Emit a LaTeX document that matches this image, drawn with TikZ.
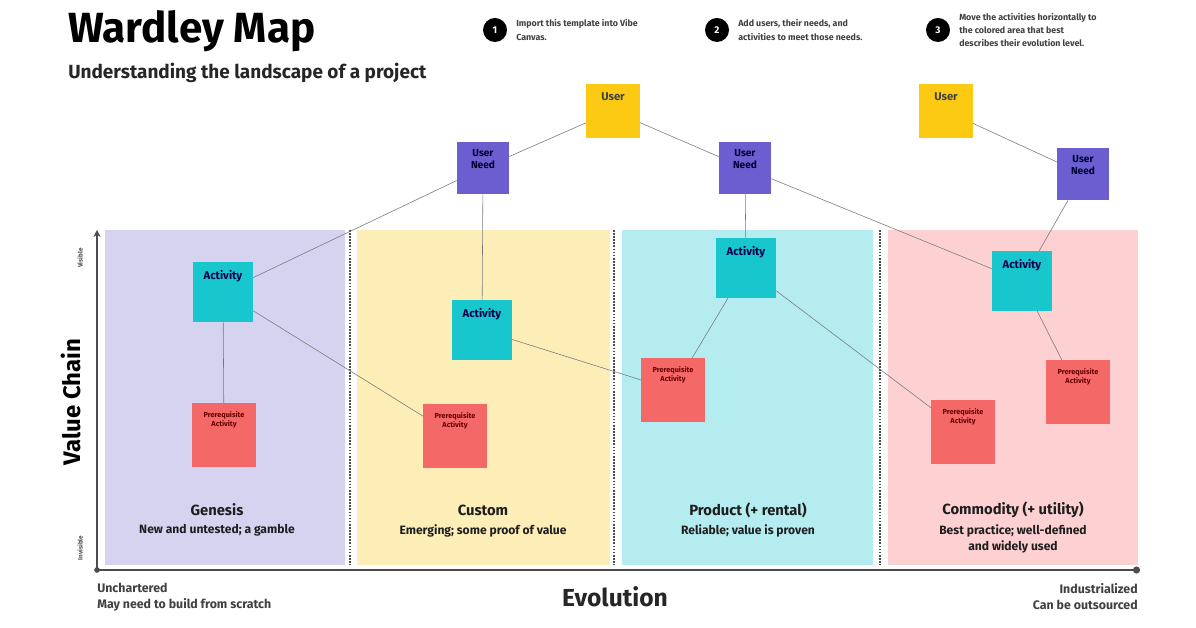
\documentclass[tikz,border=0pt]{standalone}
\usepackage{fontspec}
\setmainfont{Fira Sans}
\usepackage{xcolor}
\usepackage{tikz}
\usetikzlibrary{arrows.meta, positioning}
\definecolor{genesisbg}{RGB}{214, 211, 240}
\definecolor{custombg}{RGB}{253, 237, 183}
\definecolor{productbg}{RGB}{180, 236, 240}
\definecolor{commoditybg}{RGB}{253, 209, 209}
\definecolor{useryellow}{RGB}{252, 202, 18}
\definecolor{needpurple}{RGB}{108, 94, 208}
\definecolor{actcyan}{RGB}{24, 198, 206}
\definecolor{prereqred}{RGB}{244, 104, 104}
\definecolor{linkgray}{RGB}{120, 120, 120}
\definecolor{inkdark}{RGB}{30, 30, 30}
\tikzstyle{boxlabel} = [
    anchor=north,
    inner sep=0pt,
    align=center
]
\tikzstyle{user} = [
    rectangle,
    minimum size=1.33cm,
    inner sep=0pt,
    fill=useryellow,
    label={[boxlabel, yshift=-0.2cm, font=\fontsize{8}{9}\selectfont\bfseries, text=black!75]north:User}
]
\tikzstyle{need} = [
    rectangle,
    minimum size=1.3cm,
    inner sep=0pt,
    fill=needpurple,
    label={[boxlabel, yshift=-0.18cm, font=\fontsize{7.2}{8.8}\selectfont\bfseries, text=black!80!blue]north:User\\Need}
]
\tikzstyle{activity} = [
    rectangle,
    minimum size=1.5cm,
    inner sep=0pt,
    fill=actcyan,
    label={[boxlabel, yshift=-0.2cm, font=\fontsize{8}{9}\selectfont\bfseries, text=black!70!blue]north:Activity}
]
\tikzstyle{prereq} = [
    rectangle,
    minimum size=1.58cm,
    inner sep=0pt,
    fill=prereqred,
    label={[boxlabel, yshift=-0.2cm, font=\fontsize{5.2}{6.5}\selectfont\bfseries, text=black!60!red]north:Prerequisite\\Activity}
]
\tikzstyle{link} = [
    thin,
    color=linkgray
]
\tikzstyle{divider} = [
    line width=1.2pt,
    densely dotted,
    color=black!70
]
\tikzstyle{stage} = [
    align=center,
    font=\fontsize{10.5}{12}\selectfont\bfseries,
    text=inkdark
]
\tikzstyle{stagenote} = [
    align=center,
    inner sep=0pt,
    font=\fontsize{8.6}{12}\selectfont\bfseries,
    text=inkdark
]
\tikzstyle{stepdot} = [
    circle,
    fill=black,
    minimum size=0.6cm,
    inner sep=0pt,
    text=white,
    font=\fontsize{7}{8}\selectfont\bfseries
]
\tikzstyle{steptext} = [
    align=left,
    font=\fontsize{6.3}{9.5}\selectfont\bfseries,
    text=black!75
]

\begin{document}
\begin{tikzpicture}[x=0.025cm, y=-0.025cm]
        \useasboundingbox[fill=white] (0,0) rectangle (1196,628);

        % Header
        \node[anchor=west, inner sep=0pt, font=\fontsize{30}{34}\selectfont\bfseries] (title) at (68,31) {Wardley Map};
        \node[anchor=west, inner sep=0pt, font=\fontsize{13.5}{15}\selectfont\bfseries, text=black!85] (subtitle) at (68,73) {Understanding the landscape of a project};

        % Steps
        \node[stepdot] (s1) at (495,30) {1};
        \node[steptext, right=0.1cm of s1] (t1) {Import this template into Vibe\\Canvas.};
        \node[stepdot] (s2) at (717,30) {2};
        \node[steptext, right=0.1cm of s2] (t2) {Add users, their needs, and\\activities to meet those needs.};
        \node[stepdot] (s3) at (938,30) {3};
        \node[steptext, right=0.1cm of s3] (t3) {Move the activities horizontally to\\the colored area that best\\describes their evolution level.};

        % Evolution bands
        \fill[genesisbg] (105,230) rectangle (345,565);
        \fill[custombg] (357,230) rectangle (610,565);
        \fill[productbg] (622,230) rectangle (873,565);
        \fill[commoditybg] (888,230) rectangle (1138,565);
        \draw[divider] (350,230) -- (350,565);
        \draw[divider] (614,230) -- (614,565);
        \draw[divider] (880,230) -- (880,565);

        \node[stage] (genesis) at (217,510) {Genesis};
        \node[stagenote, anchor=north] (genesisnote) at (217,524) {New and untested; a gamble};
        \node[stage] (custom) at (483,510) {Custom};
        \node[stagenote, anchor=north] (customnote) at (483,524) {Emerging; some proof of value};
        \node[stage] (product) at (748,510) {Product (+ rental)};
        \node[stagenote, anchor=north] (productnote) at (748,524) {Reliable; value is proven};
        \node[stage] (commodity) at (1013,510) {Commodity (+ utility)};
        \node[stagenote, anchor=north] (commoditynote) at (1013,524) {Best practice; well-defined\\and widely used};

        % Axes
        \coordinate (origin) at (97,570);
        \coordinate (ytop) at (97,230);
        \coordinate (xend) at (1140,570);
        \draw[line width=1pt, color=black!70, {Stealth[length=5pt, width=5pt]}-{Circle[length=5pt]}] (ytop) -- (origin) -- (xend);
        \fill[black!70] (origin) circle (2pt);

        \node[rotate=90, font=\fontsize{4.5}{5}\selectfont\bfseries, text=black!70] (visible) at (80,258) {Visible};
        \node[rotate=90, font=\fontsize{4.5}{5}\selectfont\bfseries, text=black!70] (invisible) at (80,548) {Invisible};
        \node[rotate=90, font=\fontsize{17}{19}\selectfont\bfseries] (valuechain) at (71,402) {Value Chain};
        \node[font=\fontsize{17.5}{20}\selectfont\bfseries, text=black!85] (evolution) at (615,597) {Evolution};
        \node[anchor=north west, inner sep=0pt, align=left, font=\fontsize{8.8}{11.5}\selectfont\bfseries, text=black!75] (uncharted) at (97,583) {Unchartered\\May need to build from scratch};
        \node[anchor=north east, inner sep=0pt, align=right, font=\fontsize{8.8}{11.5}\selectfont\bfseries, text=black!75] (industrial) at (1138,583) {Industrialized\\Can be outsourced};

        % Users and needs
        \node[user] (u1) at (613,111) {};
        \node[user] (u2) at (946,111) {};
        \node[need] (n1) at (483,168) {};
        \node[need] (n2) at (745,168) {};
        \node[need] (n3) at (1083,174) {};

        % Activities
        \node[activity] (a1) at (223,292) {};
        \node[activity] (a2) at (482,330) {};
        \node[activity] (a3) at (746,268) {};
        \node[activity] (a4) at (1022,281) {};

        % Prerequisites
        \node[prereq] (p1) at (224,435) {};
        \node[prereq] (p2) at (455,436) {};
        \node[prereq] (p3) at (673,390) {};
        \node[prereq] (p4) at (963,432) {};
        \node[prereq] (p5) at (1078,392) {};

        % Links
        \draw[link] (u1) -- (n1);
        \draw[link] (u1) -- (n2);
        \draw[link] (u2) -- (n3);
        \draw[link] (n1) -- (a1);
        \draw[link] (n1) -- (a2);
        \draw[link] (n2) -- (a3);
        \draw[link] (n2) -- (a4);
        \draw[link] (n3) -- (a4);
        \draw[link] (a1) -- (p1);
        \draw[link] (a1) -- (p2);
        \draw[link] (a2) -- (p3);
        \draw[link] (a3) -- (p3);
        \draw[link] (a3) -- (p4);
        \draw[link] (a4) -- (p5);
    \end{tikzpicture}
\end{document}
